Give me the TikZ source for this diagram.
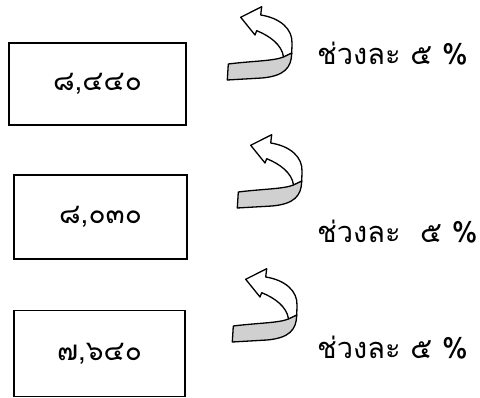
\documentclass[tikz,border=0pt]{standalone}
\usepackage{fontspec}
\usepackage{tikz}
\newfontfamily\thaifont[Script=Thai]{Loma}
\definecolor{ribbongray}{RGB}{208,208,208}

\begin{document}
\begin{tikzpicture}[x=1pt, y=-1pt,
    valbox/.style={draw, line width=1.1pt, minimum width=#1, inner sep=0pt,
        font=\thaifont\fontsize{28}{30}\selectfont},
    steplabel/.style={anchor=base west, inner sep=0pt,
        font=\thaifont\fontsize{29}{32}\selectfont},
    curlarrow/.pic={
        % back side of the ribbon with the head
        \draw[line width=1.3pt, fill=white, line join=round]
            (40.7,17.3) -- (61.7,6.7) -- (60.7,15)
            .. controls (80,18) and (93,29) .. (92,44) -- (91.7,54)
            -- (83.5,57)
            .. controls (82,45) and (70,36) .. (56.7,30.7)
            -- (55,35) -- cycle;
        % front side of the ribbon
        \draw[line width=1.3pt, fill=ribbongray, line join=round]
            (28.3,64) .. controls (52,61) and (74,61) .. (83.5,57)
            -- (91.7,53) .. controls (91.5,68) and (84,76) .. (62,78)
            -- (27.3,80) -- cycle;
    }]
    \useasboundingbox (0,0) rectangle (480,398);

    % Values
    \node[valbox=177pt, minimum height=82pt] (v1) at (97.5,84) {๘,๔๔๐};
    \node[valbox=173pt, minimum height=84pt] (v2) at (100.5,217) {๘,๐๓๐};
    \node[valbox=171pt, minimum height=86pt] (v3) at (99.5,353.5) {๗,๖๔๐};

    % Curved arrows
    \pic at (200,0) {curlarrow};
    \pic at (210,128) {curlarrow};
    \pic at (205,262) {curlarrow};

    % Step labels
    \node[steplabel] (s1) at (317,65) {ช่วงละ ๕ \%};
    \node[steplabel] (s2) at (317,243) {ช่วงละ\ \ ๕ \%};
    \node[steplabel] (s3) at (317,359) {ช่วงละ ๕ \%};
\end{tikzpicture}
\end{document}
